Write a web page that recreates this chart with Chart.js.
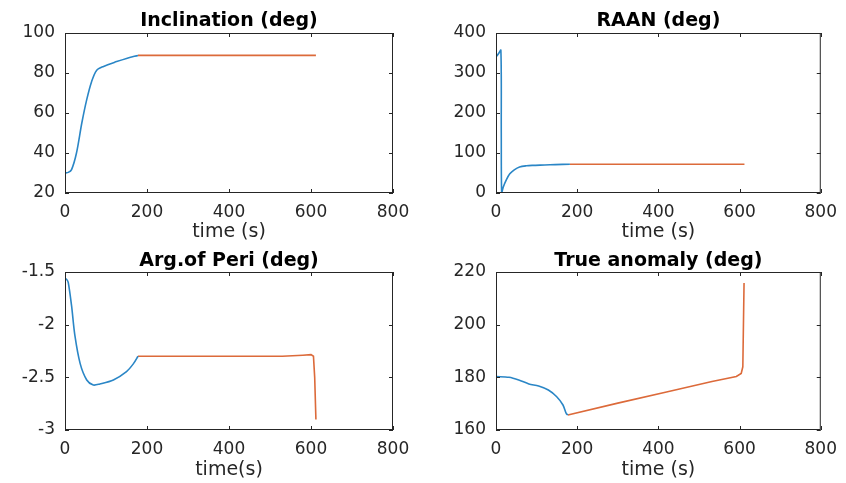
<!DOCTYPE html>
<html>
<head>
<meta charset="utf-8">
<script src="https://cdn.jsdelivr.net/npm/chart.js@4.4.1/dist/chart.umd.min.js"></script>
<style>
  html, body { margin: 0; padding: 0; background: #fff; }
  #wrap { position: relative; width: 846px; height: 483px; }
  #wrap canvas { position: absolute; left: 0; top: 0; }
</style>
</head>
<body>
<div id="wrap">
  <canvas id="c1" width="846" height="483"></canvas>
  <canvas id="c2" width="846" height="483"></canvas>
  <canvas id="c3" width="846" height="483"></canvas>
  <canvas id="c4" width="846" height="483"></canvas>
</div>
<script>
// values (time in s, angles in deg)
const xTicks = [0, 200, 400, 600, 800];

const incTimeA = [0, 8, 16, 28, 41, 53, 65, 77, 94, 126, 150, 178];
const incA = [30, 30.3, 31.7, 40, 55, 66.7, 75.8, 81.3, 83.3, 85.7, 87.3, 88.8];
const incTimeB = [178, 400, 612];
const incB = [88.8, 88.8, 88.8];

const raanTimeA = [0, 6, 12, 13, 14, 18, 26, 34, 45, 58, 75, 90, 120, 146, 182];
const raanA = [340, 348, 357, 150, 0, 15, 34, 48, 58, 65, 68, 69, 70, 71, 72];
const raanTimeB = [182, 400, 612];
const raanB = [72, 72, 72];

const argTimeA = [0, 4, 8, 16, 24, 37, 53, 69, 85, 118, 150, 167, 178];
const argA = [-1.56, -1.57, -1.6, -1.82, -2.1, -2.37, -2.525, -2.573, -2.563, -2.525, -2.446, -2.37, -2.3];
const argTimeB = [178, 400, 530, 580, 600, 606, 609, 612];
const argB = [-2.3, -2.3, -2.3, -2.29, -2.285, -2.3, -2.5, -2.9];

const trueTimeA = [0, 32, 56, 81, 105, 129, 149, 165, 173, 177];
const trueA = [180.3, 180, 179, 177.5, 176.7, 175.2, 172.7, 169.5, 166.3, 165.7];
const trueTimeB = [177, 300, 420, 532, 592, 604, 608, 611];
const trueB = [165.7, 170.2, 174.4, 178.4, 180.3, 181.5, 184, 215.8];

const BLUE = "#2a86c6";
const ORANGE = "#dc6a3a";
const INK = "#262626";

function toPoints(xs, ys) {
  return xs.map((x, i) => ({ x: x, y: ys[i] }));
}

// MATLAB style box with inward ticks on all four sides
const boxPlugin = {
  id: "box",
  afterDraw(chart) {
    const ctx = chart.ctx;
    const a = chart.chartArea;
    const xs = chart.scales.x;
    const ys = chart.scales.y;
    ctx.save();
    ctx.strokeStyle = INK;
    ctx.lineWidth = 1;
    ctx.strokeRect(a.left + 0.5, a.top + 0.5, a.right - a.left - 1, a.bottom - a.top - 1);
    ctx.beginPath();
    xs.ticks.forEach((t) => {
      const px = Math.round(xs.getPixelForValue(t.value)) + 0.5;
      ctx.moveTo(px, a.bottom);
      ctx.lineTo(px, a.bottom - 4);
      ctx.moveTo(px, a.top);
      ctx.lineTo(px, a.top + 4);
    });
    ys.ticks.forEach((t) => {
      const py = Math.round(ys.getPixelForValue(t.value)) + 0.5;
      ctx.moveTo(a.left, py);
      ctx.lineTo(a.left + 4, py);
      ctx.moveTo(a.right, py);
      ctx.lineTo(a.right - 4, py);
    });
    ctx.stroke();
    ctx.restore();
  },
};

function makeChart(id, opts) {
  const ctx = document.getElementById(id).getContext("2d");
  return new Chart(ctx, {
    type: "line",
    data: {
      datasets: [
        {
          data: toPoints(opts.tA, opts.vA),
          borderColor: BLUE,
          borderWidth: 1.6,
          pointRadius: 0,
          tension: 0.3,
        },
        {
          data: toPoints(opts.tB, opts.vB),
          borderColor: ORANGE,
          borderWidth: 1.6,
          pointRadius: 0,
          tension: 0,
        },
      ],
    },
    options: {
      responsive: false,
      animation: false,
      layout: { padding: opts.pad },
      plugins: {
        legend: { display: false },
        tooltip: { enabled: false },
        title: {
          display: true,
          text: opts.title,
          fullSize: false,
          color: "#000",
          font: { family: "DejaVu Sans", size: 19, weight: "bold", lineHeight: 1.2 },
          padding: opts.titlePad,
        },
      },
      scales: {
        x: {
          type: "linear",
          min: 0,
          max: 800,
          afterBuildTicks: (s) => { s.ticks = xTicks.map((v) => ({ value: v })); },
          afterFit: (s) => { s.height = opts.xh; },
          grid: { display: false, drawTicks: false },
          border: { display: false },
          ticks: {
            color: INK,
            padding: 9,
            font: { family: "DejaVu Sans", size: 17 },
            maxRotation: 0,
          },
          title: {
            display: true,
            text: opts.xTitle,
            color: INK,
            padding: 0,
            font: { family: "DejaVu Sans", size: 19, lineHeight: 1 },
          },
        },
        y: {
          type: "linear",
          min: opts.yMin,
          max: opts.yMax,
          afterBuildTicks: (s) => { s.ticks = opts.yTicks.map((v) => ({ value: v })); },
          afterFit: (s) => { s.width = opts.yw; },
          grid: { display: false, drawTicks: false },
          border: { display: false },
          ticks: {
            color: INK,
            padding: 10,
            font: { family: "DejaVu Sans", size: 17 },
            callback: (v) => String(v),
          },
        },
      },
    },
    plugins: [boxPlugin],
  });
}

makeChart("c1", {
  title: "Inclination (deg)", xTitle: "time (s)",
  tA: incTimeA, vA: incA, tB: incTimeB, vB: incB,
  yMin: 20, yMax: 100, yTicks: [20, 40, 60, 80, 100],
  pad: { left: 0, right: 453, top: 0, bottom: 241.5 },
  titlePad: { top: 10, bottom: 0.2 }, yw: 65, xh: 48.5,
});

makeChart("c2", {
  title: "RAAN (deg)", xTitle: "time (s)",
  tA: raanTimeA, vA: raanA, tB: raanTimeB, vB: raanB,
  yMin: 0, yMax: 400, yTicks: [0, 100, 200, 300, 400],
  pad: { left: 423, right: 19, top: 0, bottom: 241.5 },
  titlePad: { top: 10, bottom: 0.2 }, yw: 73, xh: 48.5,
});

makeChart("c3", {
  title: "Arg.of Peri (deg)", xTitle: "time(s)",
  tA: argTimeA, vA: argA, tB: argTimeB, vB: argB,
  yMin: -3, yMax: -1.5, yTicks: [-3, -2.5, -2, -1.5],
  pad: { left: 0, right: 453, top: 240, bottom: 3.5 },
  titlePad: { top: 9.2, bottom: 0 }, yw: 65, xh: 49.5,
});

makeChart("c4", {
  title: "True anomaly (deg)", xTitle: "time (s)",
  tA: trueTimeA, vA: trueA, tB: trueTimeB, vB: trueB,
  yMin: 160, yMax: 220, yTicks: [160, 180, 200, 220],
  pad: { left: 423, right: 19, top: 240, bottom: 3.5 },
  titlePad: { top: 9.2, bottom: 0 }, yw: 73, xh: 49.5,
});
</script>
</body>
</html>
